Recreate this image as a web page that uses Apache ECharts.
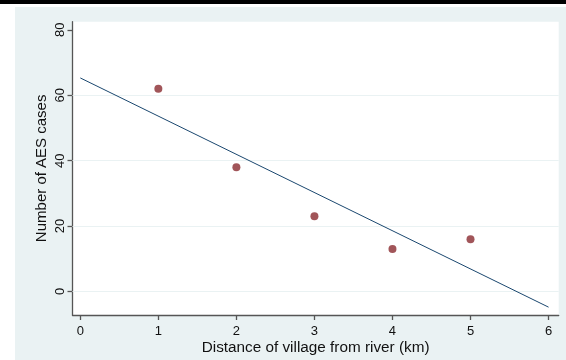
<!DOCTYPE html>
<html>
<head>
<meta charset="utf-8">
<script src="https://cdn.jsdelivr.net/npm/echarts@6/dist/echarts.min.js"></script>
<style>
html,body{margin:0;padding:0;background:#fff;width:566px;height:360px;overflow:hidden;}
#topbar{position:absolute;left:0;top:0;width:566px;height:4px;background:#000;}
#bg{position:absolute;left:15px;top:7px;width:551px;height:353px;background:#EAF2F3;}
#chart{position:absolute;left:0;top:0;width:566px;height:360px;}
</style>
</head>
<body>
<div id="topbar"></div>
<div id="bg"></div>
<div id="chart"></div>
<script>
// Data
var distanceKm = [1, 2, 3, 4, 5];
var aesCases = [62, 38, 23, 13, 16];
var fitX = [0, 6];
var fitY = [65.3, -4.8];
var xTicks = [0, 1, 2, 3, 4, 5, 6];
var yTicks = [0, 20, 40, 60, 80];
var gridValues = [0, 20, 40, 60];
var xTitle = 'Distance of village from river (km)';
var yTitle = 'Number of AES cases';

var font = "'Liberation Sans', Arial, sans-serif";
var chart = echarts.init(document.getElementById('chart'), null, {renderer: 'canvas'});

var points = distanceKm.map(function (d, i) { return [d, aesCases[i]]; });
var fitLine = fitX.map(function (d, i) { return [d, fitY[i]]; });

chart.setOption({
  animation: false,
  backgroundColor: 'transparent',
  grid: {
    left: 72.5, top: 21.7, right: 7.3, bottom: 42.7,
    show: true, backgroundColor: '#ffffff', borderWidth: 0
  },
  xAxis: {
    type: 'value', min: -0.1, max: 6.13,
    name: xTitle, nameLocation: 'middle', nameGap: 25, nameMoveOverlap: false,
    nameTextStyle: {fontFamily: font, fontSize: 15.3, color: '#111'},
    axisLine: {show: true, onZero: false, lineStyle: {color: '#555', width: 1.3}},
    axisTick: {show: true, length: 5, customValues: xTicks, lineStyle: {color: '#555', width: 1.3}},
    axisLabel: {customValues: xTicks, fontFamily: font, fontSize: 13, color: '#111', margin: 10},
    splitLine: {show: false}
  },
  yAxis: {
    type: 'value', min: -7.2, max: 82.5,
    name: yTitle, nameLocation: 'middle', nameGap: 23, nameMoveOverlap: false,
    nameTextStyle: {fontFamily: font, fontSize: 15, color: '#111'},
    axisLine: {show: true, onZero: false, lineStyle: {color: '#555', width: 1.3}},
    axisTick: {show: true, length: 5, customValues: yTicks, lineStyle: {color: '#555', width: 1.3}},
    axisLabel: {customValues: yTicks, rotate: 90, fontFamily: font, fontSize: 13, color: '#111', margin: 6},
    splitLine: {show: false}
  },
  series: [
    {
      type: 'line',
      data: fitLine,
      showSymbol: false,
      symbol: 'none',
      lineStyle: {color: '#1A476F', width: 1},
      z: 3,
      markLine: {
        silent: true,
        symbol: 'none',
        label: {show: false},
        lineStyle: {color: '#EAF2F3', width: 1, type: 'solid'},
        data: gridValues.map(function (v) { return {yAxis: v}; }),
        z: 1
      }
    },
    {
      type: 'scatter',
      data: points,
      symbol: 'circle',
      symbolSize: 8,
      itemStyle: {color: '#8A2B30'},
      z: 4
    }
  ]
});
</script>
</body>
</html>
